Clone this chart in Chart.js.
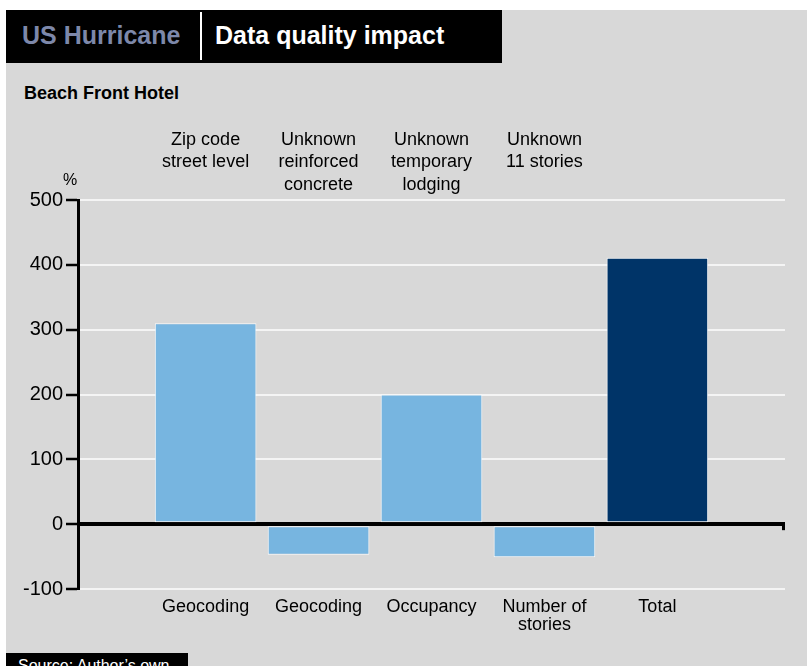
<!DOCTYPE html>
<html>
<head>
<meta charset="utf-8">
<script src="https://cdn.jsdelivr.net/npm/chart.js@4"></script>
<style>
  html, body { margin: 0; padding: 0; background: #fff; }
  body { width: 807px; height: 666px; position: relative; overflow: hidden; font-family: "Liberation Sans", Arial, sans-serif; }
  #panel { position: absolute; left: 6px; top: 10px; width: 801px; height: 656px; background: #d8d8d8; }
  #header { position: absolute; left: 6px; top: 10px; width: 496px; height: 53px; background: #000; }
  #header .a { position: absolute; left: 16px; top: 11px; font-size: 25px; font-weight: bold; color: #7d88aa; }
  #header .sep { position: absolute; left: 194px; top: 2px; width: 2px; height: 48px; background: #fff; }
  #header .b { position: absolute; left: 209px; top: 11px; font-size: 25px; font-weight: bold; color: #fff; }
  #sub { position: absolute; left: 24px; top: 83px; font-size: 18px; font-weight: bold; color: #000; }
  #wrap { position: absolute; left: 6px; top: 110px; width: 801px; height: 530px; }
  #source { position: absolute; left: 6px; top: 653px; width: 182px; height: 20px; background: #000; color: #fff; font-size: 16px; line-height: 16px; padding-top: 5px; box-sizing: border-box; padding-left: 12px; }
</style>
</head>
<body>
<div id="panel"></div>
<div id="header"><span class="a">US Hurricane</span><div class="sep"></div><span class="b">Data quality impact</span></div>
<div id="sub">Beach Front Hotel</div>
<div id="wrap"><canvas id="chart" width="801" height="530"></canvas></div>
<div id="source">Source: Author’s own</div>
<script>
// categories (bottom) and the assumption behind each bar (top)
var categories = [['Geocoding'], ['Geocoding'], ['Occupancy'], ['Number of', 'stories'], ['Total']];
var assumptions = [['Zip code', 'street level'], ['Unknown', 'reinforced', 'concrete'], ['Unknown', 'temporary', 'lodging'], ['Unknown', '11 stories'], ['']];
var impact = [310, -47, 200, -51, 411];
var barColors = ['#77b5e0', '#77b5e0', '#77b5e0', '#77b5e0', '#003468'];
var yTicks = [-100, 0, 100, 200, 300, 400, 500];

var font = 'Liberation Sans';

var extras = {
  id: 'extras',
  afterDraw: function(chart) {
    var ctx = chart.ctx;
    var y = chart.scales.y;
    var area = chart.chartArea;
    ctx.save();
    // percent unit above the value axis
    ctx.fillStyle = '#000';
    ctx.font = '16px "' + font + '"';
    ctx.textAlign = 'center';
    ctx.textBaseline = 'middle';
    ctx.fillText('%', area.left - 8, y.getPixelForValue(500) - 19);
    // small drop at the end of the zero line
    var y0 = y.getPixelForValue(0);
    ctx.fillStyle = '#000';
    ctx.fillRect(area.right - 3, y0 - 2, 3, 8);
    ctx.restore();
  }
};

var chart = new Chart('chart', {
  type: 'bar',
  data: {
    datasets: [{
      data: impact.map(function(v, i) { return { x: i, y: v }; }),
      backgroundColor: barColors,
      borderColor: 'rgba(255,255,255,0.85)',
      borderWidth: 1,
      borderSkipped: false,
      categoryPercentage: 1,
      barPercentage: 0.9
    }]
  },
  options: {
    responsive: false,
    animation: false,
    layout: { padding: { left: 0, top: 0, right: 22, bottom: 0 } },
    plugins: { legend: { display: false }, tooltip: { enabled: false } },
    scales: {
      x: {
        type: 'linear',
        position: 'bottom',
        min: -1.13,
        max: 5.13,
        offset: false,
        afterBuildTicks: function(s) { s.ticks = categories.map(function(c, i) { return { value: i }; }); },
        afterFit: function(s) { s.height = 51; },
        grid: { display: false, drawTicks: false, offset: false },
        border: { display: false },
        ticks: {
          autoSkip: false,
          maxRotation: 0,
          padding: 9,
          color: '#000',
          font: { family: font, size: 18, lineHeight: 1.0 },
          callback: function(v) { return categories[v]; }
        }
      },
      x2: {
        type: 'linear',
        position: 'top',
        min: -1.13,
        max: 5.13,
        offset: false,
        afterBuildTicks: function(s) { s.ticks = assumptions.map(function(c, i) { return { value: i }; }); },
        afterFit: function(s) { s.height = 90; },
        grid: { display: false, drawTicks: false, offset: false },
        border: { display: false },
        ticks: {
          autoSkip: false,
          maxRotation: 0,
          padding: 4,
          crossAlign: 'far',
          color: '#000',
          font: { family: font, size: 18, lineHeight: 1.25 },
          callback: function(v) { return assumptions[v]; }
        }
      },
      y: {
        min: -100,
        max: 500,
        afterBuildTicks: function(s) { s.ticks = yTicks.map(function(v) { return { value: v }; }); },
        afterFit: function(s) { s.width = 72; },
        border: { display: true, color: '#000', width: 3 },
        grid: {
          color: function(c) { return c.tick && c.tick.value === 0 ? '#000' : '#f4f4f4'; },
          lineWidth: function(c) { return c.tick && c.tick.value === 0 ? 4 : 2; },
          tickColor: '#000',
          tickWidth: 2.5,
          tickLength: 12
        },
        ticks: {
          padding: 3,
          color: '#000',
          font: { family: font, size: 20 }
        }
      }
    }
  },
  plugins: [extras]
});
</script>
</body>
</html>
